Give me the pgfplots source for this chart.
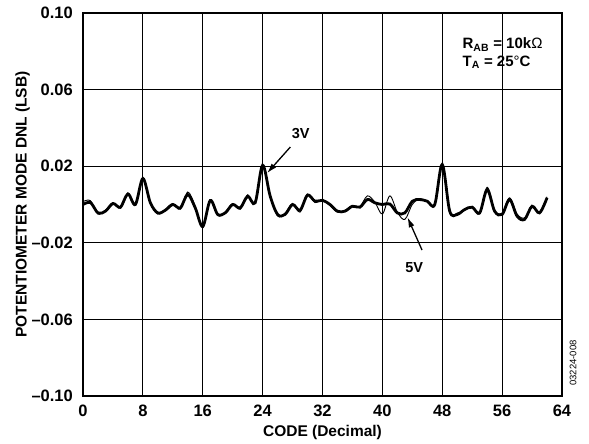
\documentclass[border=0pt]{standalone}
\usepackage{pgfplots}
\pgfplotsset{compat=1.18}
\usepackage{fontspec}
\setmainfont{Liberation Sans}
\usetikzlibrary{arrows.meta}
\begin{document}
\begin{tikzpicture}
\useasboundingbox (-83pt,-48pt) rectangle (506pt,396pt);
\begin{axis}[
  at={(0,0)}, anchor=south west,
  scale only axis, width=479pt, height=383pt,
  xmin=0, xmax=64, ymin=-0.10, ymax=0.10,
  xtick={0,8,16,24,32,40,48,56,64},
  xticklabels={0,8,16,24,32,40,48,56,64},
  ytick={-0.10,-0.06,-0.02,0.02,0.06,0.10},
  yticklabels={–0.10,–0.06,–0.02,0.02,0.06,0.10},
  major tick length=0pt,
  grid=major,
  major grid style={black, line width=1pt},
  axis line style={line width=1.8pt},
  tick label style={font=\fontsize{16.5}{19}\selectfont\bfseries},
  yticklabel style={inner sep=0pt, xshift=-10pt},
  xticklabel style={inner sep=0pt, yshift=-9pt},
  xlabel={CODE (Decimal)},
  ylabel={POTENTIOMETER MODE DNL (LSB)},
  every axis x label/.style={at={(axis description cs:0.5,-0.094)}, anchor=center, font=\fontsize{15.5}{18}\selectfont\bfseries},
  every axis y label/.style={at={(axis description cs:-0.126,0.5)}, rotate=90, anchor=center, font=\fontsize{15.5}{18}\selectfont\bfseries},
  clip=false,
]
% 3V (thick)
\addplot[black, line width=2.8pt, smooth, tension=0.55] coordinates {
(0,0.0000) (1,0.0010) (2,-0.0044) (3,-0.0035) (4,0.0005) (5,-0.0014) (6,0.0055) (7,0.0000)
(8,0.0136) (9,0.0009) (10,-0.0044) (11,-0.0030) (12,0.0000) (13,-0.0018) (14,0.0052) (15,-0.0018)
(16,-0.0115) (17,0.0021) (18,-0.0052) (19,-0.0044) (20,0.0000) (21,-0.0018) (22,0.0043) (23,0.0009)
(24,0.0205) (25,0.0045) (26,-0.0052) (27,-0.0052) (28,0.0000) (29,-0.0030) (30,0.0049) (31,0.0017)
(32,0.0022) (33,0.0000) (34,-0.0035) (35,-0.0035) (36,-0.0009) (37,-0.0014) (38,0.0026) (39,0.0009)
(40,0.0000) (41,0.0003) (42,-0.0044) (43,-0.0044) (44,0.0017) (45,0.0026) (46,0.0017) (47,0.0000)
(48,0.0209) (49,-0.0035) (50,-0.0052) (51,-0.0026) (52,-0.0014) (53,-0.0044) (54,0.0078) (55,-0.0035)
(56,-0.0052) (57,0.0026) (58,-0.0061) (59,-0.0078) (60,-0.0009) (61,-0.0044) (62,0.0035)
};
% 5V (thin)
\addplot[black, line width=0.9pt, smooth, tension=0.55] coordinates {
(0,0.0015) (1,0.0020) (2,-0.0050) (3,-0.0030) (4,0.0010) (5,-0.0020) (6,0.0060) (7,-0.0005)
(8,0.0140) (9,0.0005) (10,-0.0050) (11,-0.0025) (12,0.0005) (13,-0.0025) (14,0.0065) (15,-0.0010)
(16,-0.0120) (17,0.0025) (18,-0.0058) (19,-0.0040) (20,0.0005) (21,-0.0025) (22,0.0050) (23,0.0005)
(24,0.0200) (25,0.0050) (26,-0.0060) (27,-0.0045) (28,0.0005) (29,-0.0040) (30,0.0055) (31,0.0010)
(32,0.0025) (33,-0.0005) (34,-0.0040) (35,-0.0030) (36,-0.0005) (37,-0.0010) (38,0.0045) (39,0.0012)
(40,-0.0050) (41,0.0045) (42,-0.0040) (43,-0.0078) (44,0.0000) (45,0.0030) (46,0.0015) (47,0.0005)
(48,0.0205) (49,-0.0040) (50,-0.0045) (51,-0.0030) (52,-0.0010) (53,-0.0050) (54,0.0090) (55,-0.0030)
(56,-0.0045) (57,0.0035) (58,-0.0050) (59,-0.0070) (60,-0.0015) (61,-0.0040) (62,0.0040)
};
\draw[-{Latex[length=10pt,width=6pt]}, line width=1.3pt] (axis cs:27.7,0.030) -- (axis cs:24.6,0.0164);
\draw[-{Latex[length=10pt,width=6pt]}, line width=1.3pt] (axis cs:45.3,-0.0238) -- (axis cs:43.36,-0.0067);
\node[font=\fontsize{14.5}{16}\selectfont\bfseries] at (axis cs:29.1,0.0373) {3V};
\node[font=\fontsize{14.5}{16}\selectfont\bfseries] at (axis cs:44.25,-0.0332) {5V};
\node[anchor=base west, inner sep=0pt, font=\fontsize{15}{17}\selectfont\bfseries] at (axis cs:50.7,0.0812) {R\textsubscript{AB} = 10k{\mdseries Ω}};
\node[anchor=base west, inner sep=0pt, font=\fontsize{15}{17}\selectfont\bfseries] at (axis cs:50.7,0.0720) {T\textsubscript{A} = 25{\mdseries °}C};
\node[rotate=90, font=\fontsize{9.5}{11}\selectfont] at (axis cs:65.5,-0.0828) {03224-008};
\end{axis}
\end{tikzpicture}
\end{document}
